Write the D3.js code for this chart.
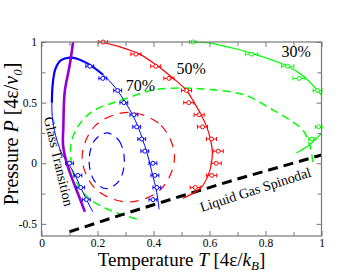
<!DOCTYPE html>
<html><head><meta charset="utf-8">
<script src="https://cdn.jsdelivr.net/npm/d3@7"></script>
<style>body{margin:0;background:#fff}svg{display:block}text{font-family:"Liberation Serif","Times New Roman",serif}</style>
</head><body><svg id="c" width="362" height="280"></svg>
<script>
// ---- axis ticks ----
const xTickValues=[0,0.2,0.4,0.6,0.8,1];
const xTickLabels=["0","0.2","0.4","0.6","0.8","1"];
const xMinorTicks=[0.1,0.3,0.5,0.7,0.9];
const yTickValues=[-0.5,0,0.5,1];
const yTickLabels=["-0.5","0","0.5","1"];
const yMinorTicks=[-0.25,0.25,0.75];

// ---- 70% (blue) ----
const p70T=[0.1725,0.219,0.272,0.294,0.330,0.340,0.358,0.369,0.398,0.405,0.412,0.398,0.10,0.13,0.14,0.16];
const p70P=[0.8,0.7,0.6,0.5,0.4,0.3,0.2,0.1,0.0,-0.1,-0.2,-0.3,0.0,-0.1,-0.2,-0.3];
const p70Err=[0.014,0.014,0.014,0.014,0.014,0.014,0.014,0.014,0.014,0.014,0.014,0.014,0.014,0.014,0.014,0.014];
const fit70T=[0.42,0.41,0.397,0.387,0.375,0.362,0.345,0.325,0.30,0.265,0.22,0.17,0.13,0.10,0.07,0.05,0.04,0.037,0.04,0.055,0.075,0.095,0.12,0.15,0.183];
const fit70P=[-0.38,-0.22,-0.1,0.0,0.1,0.19,0.3,0.4,0.5,0.62,0.73,0.815,0.86,0.871,0.85,0.78,0.65,0.5,0.35,0.19,0.07,0.0,-0.1,-0.25,-0.40];
const spin70T=[0.233,0.277,0.296,0.277,0.233,0.189,0.170,0.189];
const spin70P=[0.25,0.186,0.02,-0.146,-0.21,-0.146,0.02,0.186];

// ---- 50% (red) ----
const p50T=[0.22,0.337,0.408,0.455,0.518,0.526,0.563,0.575,0.607,0.631,0.624,0.608,0.549];
const p50P=[1.0,0.9,0.8,0.7,0.6,0.5,0.4,0.3,0.2,0.1,0.0,-0.1,-0.2];
const p50Err=[0.016,0.018,0.018,0.018,0.018,0.018,0.018,0.018,0.018,0.018,0.018,0.018,0.018];
const fit50T=[0.21,0.28,0.35,0.41,0.46,0.518,0.545,0.57,0.59,0.603,0.61,0.607,0.595,0.57,0.505];
const fit50P=[1.0,0.96,0.9,0.81,0.72,0.6,0.5,0.4,0.3,0.2,0.1,0.0,-0.1,-0.2,-0.29];
const spin50T=[0.31,0.427,0.475,0.427,0.31,0.193,0.145,0.193];
const spin50P=[0.42,0.312,0.05,-0.212,-0.32,-0.212,0.05,0.312];

// ---- 30% (green) ----
const p30T=[0.54,0.75,0.879,0.92,0.986,0.99,0.965];
const p30P=[1.0,0.9,0.8,0.7,0.6,0.3,0.2];
const p30Err=[0.012,0.022,0.022,0.022,0.016,0.012,0.012];
const fit30T=[0.54,0.6,0.7,0.75,0.8,0.879,0.935,0.986,1.02,1.04,1.02,0.98,0.95,0.91];
const fit30P=[1.0,0.99,0.94,0.907,0.87,0.8,0.72,0.6,0.5,0.4,0.3,0.2,0.14,0.085];
const spin30T=[0.340,0.280,0.226,0.1725,0.137,0.115,0.105,0.105,0.119,0.1475,0.190,0.244,0.298,0.3975,0.494,0.576,0.6975,0.744,0.826,0.887,0.933,0.958,0.969];
const spin30P=[-0.459,-0.418,-0.369,-0.295,-0.204,-0.096,0.027,0.151,0.258,0.357,0.440,0.489,0.530,0.604,0.621,0.613,0.580,0.547,0.44,0.357,0.275,0.151,0.011];

// ---- glass transition (purple) and liquid-gas spinodal (black) ----
const glassT=[0.113,0.100,0.083,0.078,0.077,0.088,0.105,0.13,0.155];
const glassP=[1.0,0.8,0.59,0.3,0.15,0.02,-0.1,-0.25,-0.4];
const lgT=[0.10,0.3,0.5,0.7,1.0];
const lgP=[-0.565,-0.415,-0.27,-0.13,0.068];

const svg=d3.select("#c");
const L=41.5,R=321.5,T=42,B=236;
const x=d3.scaleLinear().domain([0,1]).range([L,R]);
const y=d3.scaleLinear().domain([-0.6,1]).range([B,T]);
const frame="#777";

svg.append("defs").append("clipPath").attr("id","clip")
  .append("rect").attr("x",L).attr("y",T).attr("width",R-L).attr("height",B-T);

const zip=(a,b)=>a.map((v,i)=>[v,b[i]]);
const lineOpen=d3.line().x(d=>x(d[0])).y(d=>y(d[1])).curve(d3.curveCatmullRom.alpha(0.5));
const lineClosed=d3.line().x(d=>x(d[0])).y(d=>y(d[1])).curve(d3.curveCatmullRomClosed.alpha(0.5));
const lineLin=d3.line().x(d=>x(d[0])).y(d=>y(d[1]));

const g=svg.append("g").attr("clip-path","url(#clip)");

// dashed spinodals
g.append("path").attr("d",lineOpen(zip(spin30T,spin30P))).attr("fill","none").attr("stroke","#00ff00").attr("stroke-width",1.5).attr("stroke-dasharray","8,5");
g.append("path").attr("d",lineClosed(zip(spin50T,spin50P))).attr("fill","none").attr("stroke","#ff0000").attr("stroke-width",1.2).attr("stroke-dasharray","9,7");
g.append("path").attr("d",lineClosed(zip(spin70T,spin70P))).attr("fill","none").attr("stroke","#0000ff").attr("stroke-width",1.2).attr("stroke-dasharray","8,6");
g.append("path").attr("d",lineLin(zip(lgT,lgP))).attr("fill","none").attr("stroke","#000").attr("stroke-width",3).attr("stroke-dasharray","10,6");

// fit lines
g.append("path").attr("d",lineOpen(zip(fit30T,fit30P))).attr("fill","none").attr("stroke","#00ff00").attr("stroke-width",1.2);
g.append("path").attr("d",lineOpen(zip(fit50T,fit50P))).attr("fill","none").attr("stroke","#ff0000").attr("stroke-width",1.2);
const f70=zip(fit70T,fit70P);
g.append("path").attr("d",lineOpen(f70)).attr("fill","none").attr("stroke","#0000ff").attr("stroke-width",1);
g.append("path").attr("d",lineOpen(f70.slice(10,18))).attr("fill","none").attr("stroke","#0000ff").attr("stroke-width",2.2);
g.append("path").attr("d",lineOpen(zip(glassT,glassP))).attr("fill","none").attr("stroke","#9400d3").attr("stroke-width",2.6);

// error bar points
function points(Ts,Ps,Es,col){
  const pg=svg.append("g").attr("stroke",col).attr("stroke-width",1);
  Ts.forEach((t,i)=>{
    const cx=x(t),cy=y(Ps[i]),x0=x(t-Es[i]),x1=x(t+Es[i]);
    pg.append("line").attr("x1",x0).attr("x2",x1).attr("y1",cy).attr("y2",cy);
    pg.append("line").attr("x1",x0).attr("x2",x0).attr("y1",cy-2).attr("y2",cy+2);
    pg.append("line").attr("x1",x1).attr("x2",x1).attr("y1",cy-2).attr("y2",cy+2);
    pg.append("circle").attr("cx",cx).attr("cy",cy).attr("r",2).attr("fill","#fff");
  });
}
points(p30T,p30P,p30Err,"#00ff00");
points(p50T,p50P,p50Err,"#ff0000");
points(p70T,p70P,p70Err,"#0000ff");

// axes
const ax=svg.append("g").attr("class","axes");
function styleAxis(sel){sel.select(".domain").remove();sel.selectAll("line").attr("stroke",frame);sel.selectAll("text").attr("font-size",11.5).attr("fill","#000");}
ax.append("g").attr("transform",`translate(0,${B})`).call(d3.axisBottom(x).tickValues(xTickValues).tickFormat((d,i)=>xTickLabels[i]).tickSize(-5).tickPadding(3)).call(styleAxis);
ax.append("g").attr("transform",`translate(0,${B})`).call(d3.axisBottom(x).tickValues(xMinorTicks).tickFormat("").tickSize(-4)).call(styleAxis);
ax.append("g").attr("transform",`translate(0,${T})`).call(d3.axisTop(x).tickValues(xTickValues).tickFormat("").tickSize(-5)).call(styleAxis);
ax.append("g").attr("transform",`translate(0,${T})`).call(d3.axisTop(x).tickValues(xMinorTicks).tickFormat("").tickSize(-4)).call(styleAxis);
ax.append("g").attr("transform",`translate(${L},0)`).call(d3.axisLeft(y).tickValues(yTickValues).tickFormat((d,i)=>yTickLabels[i]).tickSize(-5).tickPadding(4.5)).call(styleAxis);
ax.append("g").attr("transform",`translate(${L},0)`).call(d3.axisLeft(y).tickValues(yMinorTicks).tickFormat("").tickSize(-4)).call(styleAxis);
ax.append("g").attr("transform",`translate(${R},0)`).call(d3.axisRight(y).tickValues(yTickValues).tickFormat("").tickSize(-5)).call(styleAxis);
ax.append("g").attr("transform",`translate(${R},0)`).call(d3.axisRight(y).tickValues(yMinorTicks).tickFormat("").tickSize(-4)).call(styleAxis);
svg.append("rect").attr("x",L).attr("y",T).attr("width",R-L).attr("height",B-T).attr("fill","none").attr("stroke",frame).attr("stroke-width",1.2);

// annotations
const ann=svg.append("g").attr("fill","#000");
ann.append("text").attr("x",x(0.857)).attr("y",y(0.874)).attr("font-size",16).text("30%");
ann.append("text").attr("x",x(0.482)).attr("y",y(0.736)).attr("font-size",16).text("50%");
ann.append("text").attr("x",x(0.301)).attr("y",y(0.596)).attr("font-size",16).text("70%");
ann.append("text").attr("transform",`translate(${x(0.008)},${y(0.373)}) rotate(77)`).attr("font-size",14).text("Glass Transition");
ann.append("text").attr("transform",`translate(${x(0.572)},${y(-0.402)}) rotate(-18)`).attr("font-size",14).text("Liquid Gas Spinodal");

// axis titles
const xl=svg.append("text").attr("x",(L+R)/2).attr("y",265.5).attr("text-anchor","middle").attr("font-size",19);
xl.append("tspan").text("Temperature ");
xl.append("tspan").attr("font-style","italic").text("T");
xl.append("tspan").text(" [4ε/");
xl.append("tspan").attr("font-style","italic").text("k");
xl.append("tspan").attr("font-style","italic").attr("font-size",13).attr("dy",4).text("B");
xl.append("tspan").attr("dy",-4).text("]");

const yl=svg.append("text").attr("transform",`translate(18,134) rotate(-90)`).attr("text-anchor","middle").attr("font-size",20);
yl.append("tspan").text("Pressure ");
yl.append("tspan").attr("font-style","italic").text("P");
yl.append("tspan").text(" [4ε/");
yl.append("tspan").attr("font-style","italic").text("v");
yl.append("tspan").attr("font-style","italic").attr("font-size",13).attr("dy",4).text("0");
yl.append("tspan").attr("dy",-4).text("]");
</script></body></html>
